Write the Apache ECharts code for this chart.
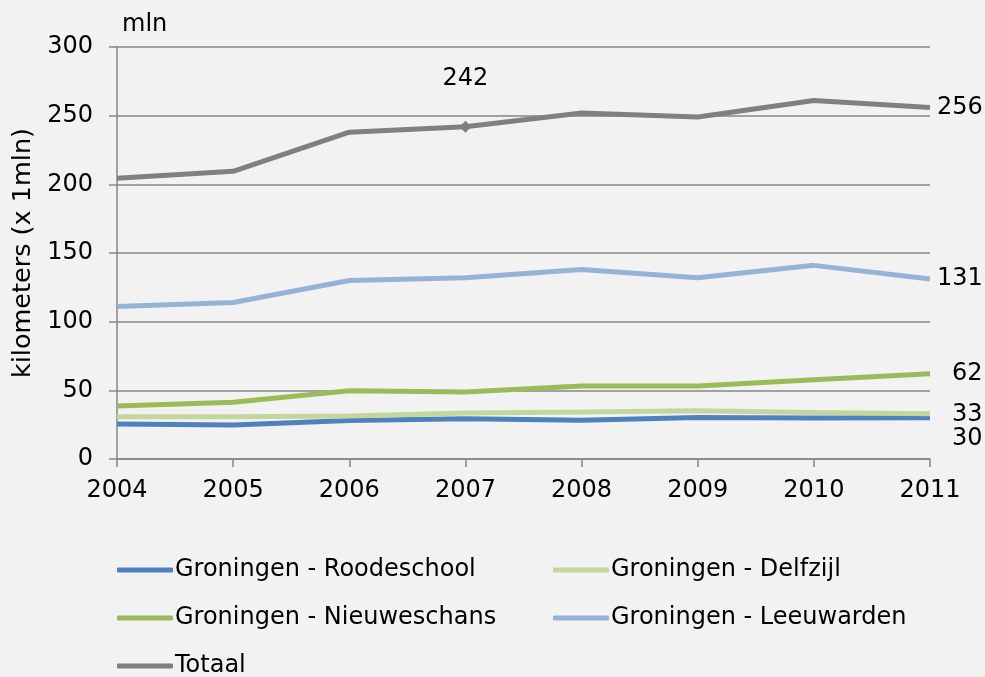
<!DOCTYPE html>
<html>
<head>
<meta charset="utf-8">
<script src="https://cdn.jsdelivr.net/npm/echarts@6/dist/echarts.min.js"></script>
<style>
html,body{margin:0;padding:0;background:#f2f2f2;}
#c{width:985px;height:677px;}
</style>
</head>
<body>
<div id="c"></div>
<script>
var years = ['2004','2005','2006','2007','2008','2009','2010','2011'];
var roodeschool = [25.5, 24.8, 28, 29.3, 28.2, 30.2, 29.8, 30];
var delfzijl = [30.8, 30.8, 31.3, 33.5, 34.2, 35.2, 33.8, 33];
var nieuweschans = [38.6, 41.3, 49.7, 48.8, 53.2, 53.2, 57.7, 62];
var leeuwarden = [111, 114, 130, 132, 138, 132, 141, 131];
var totaal = [204.5, 209.5, 238, 242, 252, 249, 261, 256];
var seriesNames = ['Groningen - Roodeschool','Groningen - Delfzijl','Groningen - Nieuweschans','Groningen - Leeuwarden','Totaal'];
var yTicks = [0, 50, 100, 150, 200, 250, 300];

var FONT = 'DejaVu Sans';
var FS = 24;
var colors = ['#4f81bd','#c3d69b','#9bbb59','#95b3d7','#808080'];
var endOffsets = [[15, 21], [15, 1], [15, 0], [0, 0], [0, 0]];

function fmt(p) { return Math.round(p.value); }

function buildData(arr, si) {
  return arr.map(function (v, i) {
    if (si === 4 && i === 3) {
      return {value: v, symbol: 'diamond', symbolSize: 12,
        label: {show: true, position: 'top', distance: 30, formatter: fmt,
          color: '#000', fontFamily: FONT, fontSize: FS}};
    }
    if (i === arr.length - 1) {
      return {value: v, label: {show: true, position: 'right', distance: 7, offset: endOffsets[si],
        formatter: fmt, color: '#000', fontFamily: FONT, fontSize: FS}};
    }
    return v;
  });
}

var seriesArrays = [roodeschool, delfzijl, nieuweschans, leeuwarden, totaal];
var series = seriesArrays.map(function (arr, i) {
  return {
    name: seriesNames[i], type: 'line', data: buildData(arr, i),
    symbol: 'circle', symbolSize: 0.1, showSymbol: true,
    lineStyle: {color: colors[i], width: 5},
    itemStyle: {color: colors[i]},
    label: {show: false},
    z: 2 + i,
    animation: false
  };
});

function legendAt(left, top, name) {
  return {
    left: left, top: top, data: [name], icon: 'roundRect', itemWidth: 56, itemHeight: 5,
    textStyle: {fontFamily: FONT, fontSize: FS, color: '#000', padding: [0, 0, 0, -3]}
  };
}

var chart = echarts.init(document.getElementById('c'), null, {renderer: 'canvas'});
chart.setOption({
  backgroundColor: '#f2f2f2',
  animation: false,
  color: colors,
  title: {text: 'mln', left: 117, top: 8, textStyle: {fontFamily: FONT, fontSize: FS, fontWeight: 'normal', color: '#000'}},
  grid: {left: 117, right: 55, top: 47, bottom: 218, containLabel: false},
  legend: [
    legendAt(112, 553, seriesNames[0]),
    legendAt(548, 553, seriesNames[1]),
    legendAt(112, 601, seriesNames[2]),
    legendAt(548, 601, seriesNames[3]),
    legendAt(112, 649, seriesNames[4])
  ],
  xAxis: {
    type: 'category', data: years, boundaryGap: false,
    axisLine: {lineStyle: {color: '#868686', width: 1.5}},
    axisTick: {show: true, length: 8, alignWithLabel: true, lineStyle: {color: '#868686', width: 1.5}},
    axisLabel: {fontFamily: FONT, fontSize: FS, color: '#000', margin: 20}
  },
  yAxis: {
    type: 'value', min: yTicks[0], max: yTicks[yTicks.length - 1], interval: 50,
    name: 'kilometers (x 1mln)', nameLocation: 'middle', nameGap: 78, nameRotate: 90,
    nameTextStyle: {fontFamily: FONT, fontSize: 25.5, color: '#000'},
    axisLine: {show: true, lineStyle: {color: '#868686', width: 1.5}},
    axisTick: {show: true, length: 8, lineStyle: {color: '#868686', width: 1.5}},
    axisLabel: {fontFamily: FONT, fontSize: FS, color: '#000', margin: 24},
    splitLine: {show: true, lineStyle: {color: '#868686', width: 1.5}}
  },
  series: series
});
</script>
</body>
</html>
